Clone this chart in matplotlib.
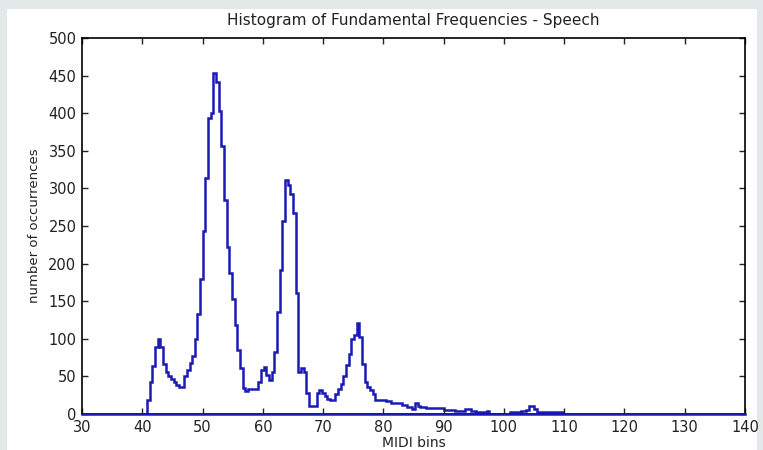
import numpy as np
import matplotlib.pyplot as plt
from matplotlib.patches import Rectangle

# histogram of f0 values, MIDI bins of width 0.44 starting at 40.8
bin_start = 40.8
bin_width = 0.44
counts = [
    18, 42, 64, 89, 100, 89, 67, 56, 51, 47, 43, 39, 36, 36,
    51, 59, 68, 77, 100, 133, 180, 244, 314, 394, 400, 453, 442, 403,
    356, 285, 222, 188, 153, 119, 85, 61, 34, 31, 33, 33, 33, 33,
    42, 58, 63, 52, 45, 56, 82, 135, 191, 256, 311, 305, 292, 267,
    161, 56, 61, 56, 28, 10, 10, 10,
    28, 32, 28, 24, 20, 18, 18, 26, 33, 40, 50, 65, 80, 100, 105, 121,
    103, 67, 42, 36, 32, 26,
    19, 18, 18, 18, 17, 17, 15, 15, 14, 14, 12, 12, 9, 9, 7, 14, 11,
    9, 9, 8, 8, 8, 8, 8, 8, 8, 5, 5, 5, 5, 4, 4, 4, 4, 7, 7, 4, 4,
    3, 3, 2, 2, 4, 0, 0, 0, 0, 0, 0, 0, 0, 2, 3, 3, 3, 4, 4, 5,
    10, 10, 6, 3, 3, 2, 2, 2, 2, 2, 2, 2, 2,
]
xticks = [30, 40, 50, 60, 70, 80, 90, 100, 110, 120, 130, 140]
yticks = [0, 50, 100, 150, 200, 250, 300, 350, 400, 450, 500]

line_col = '#1a1ab4'

fig = plt.figure(figsize=(7.63, 4.5), dpi=100)
fig.patch.set_facecolor('#e3e8e8')
# white panel behind the plot
fig.add_artist(Rectangle((7 / 763, 0), 750 / 763, 441 / 450,
                         transform=fig.transFigure, facecolor='white',
                         edgecolor='none', zorder=-10))

ax = fig.add_axes([82 / 763, 36 / 450, 663 / 763, 376 / 450])
ax.set_facecolor('white')

edges = bin_start + bin_width * np.arange(len(counts) + 1)
ax.stairs(counts, edges, baseline=0, fill=False, color=line_col, linewidth=1.8)
ax.plot([30, 140], [0, 0], color=line_col, linewidth=1.8, clip_on=False, zorder=5)

ax.set_xlim(30, 140)
ax.set_ylim(0, 500)
ax.set_xticks(xticks)
ax.set_yticks(yticks)
ax.tick_params(direction='in', length=4, width=1, top=True, right=True,
               labelsize=10.5, colors='#222222', pad=4)
for s in ax.spines.values():
    s.set_linewidth(1.2)
    s.set_color('black')

ax.set_title('Histogram of Fundamental Frequencies - Speech', fontsize=11,
             pad=9, color='#222222')
ax.set_xlabel('MIDI bins', fontsize=10, labelpad=1, color='#222222')
ax.set_ylabel('number of occurrences', fontsize=9.5, labelpad=5, color='#222222')

fig.savefig('out.png', dpi=100, facecolor=fig.get_facecolor())
